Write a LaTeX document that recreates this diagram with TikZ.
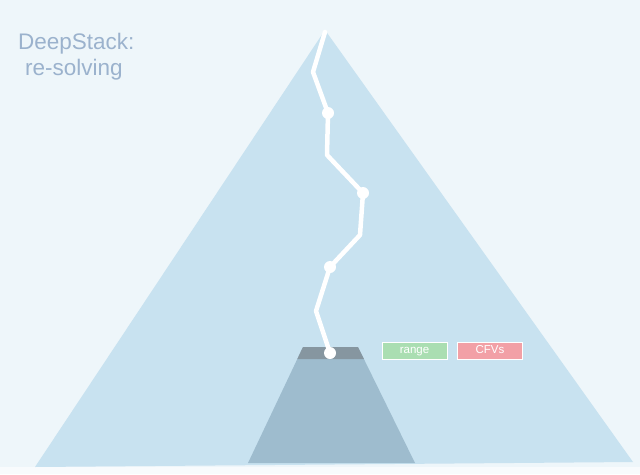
\documentclass[tikz,border=0pt]{standalone}
\usepackage{fontspec}
\setmainfont{Liberation Sans}
\definecolor{bgc}{RGB}{238,246,250}
\definecolor{bgb}{RGB}{248,251,253}
\definecolor{tri}{RGB}{200,226,240}
\definecolor{trap}{RGB}{158,188,206}
\definecolor{band}{RGB}{134,150,160}
\definecolor{titlec}{RGB}{155,178,205}
\definecolor{rangec}{RGB}{170,222,178}
\definecolor{cfvc}{RGB}{242,160,166}
\tikzset{
  pathline/.style={draw=white, line width=4.5pt, line join=round, line cap=round},
  dot/.style={circle, fill=white, inner sep=0pt, minimum size=12pt},
  tag/.style={draw=white, line width=1pt, text=white, font=\fontsize{11.5}{13}\selectfont, minimum width=65pt, minimum height=17pt, inner sep=0pt, text height=8.5pt, text depth=2.5pt},
  titletext/.style={text=titlec, font=\fontsize{22.5}{27}\selectfont, anchor=base west, inner sep=0pt}
}
\begin{document}
\begin{tikzpicture}[x=1pt,y=-1pt]
\useasboundingbox (0,0) rectangle (640,474);
\fill[bgc] (0,0) rectangle (640,474);
\fill[bgb] (0,467) rectangle (640,474);
% big triangle
\fill[tri] (325,30) -- (633,462) -- (35,467) -- cycle;
% trapezoid
\fill[trap] (303,347) -- (358,347) -- (415,463) -- (248,463) -- cycle;
\fill[band] (303,347) -- (358,347) -- (363.9,359) -- (297.3,359) -- cycle;
% title
\node[titletext] (t1) at (18,49) {DeepStack:};
\node[titletext] (t2) at (25,75) {re-solving};
% path
\coordinate (s0) at (325,32);
\coordinate (b1) at (313,72);
\node[dot] (n1) at (328,113) {};
\coordinate (b2) at (327,155);
\node[dot] (n2) at (363,193) {};
\coordinate (b3) at (360,235);
\node[dot] (n3) at (330,267) {};
\coordinate (b4) at (316,311);
\node[dot] (n4) at (330,353) {};
\draw[pathline] (s0) -- (b1) -- (n1.center) -- (b2) -- (n2.center) -- (b3) -- (n3.center) -- (b4) -- (n4.center);
% tags
\node[tag, fill=rangec] (range) at (414.5,350.5) {range};
\node[tag, fill=cfvc] (cfv) at (490,350.5) {CFVs};
\end{tikzpicture}
\end{document}
